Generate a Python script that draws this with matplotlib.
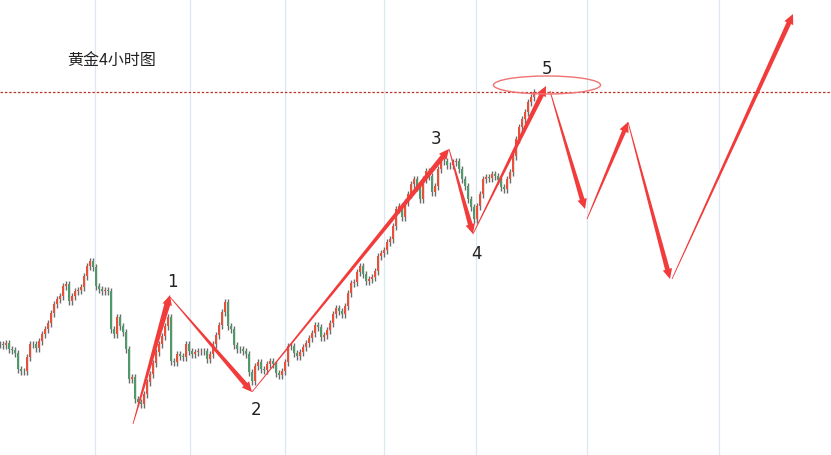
import numpy as np
import matplotlib.pyplot as plt
from matplotlib.patches import Ellipse, Polygon

plt.rcParams['font.family'] = ['Noto Sans CJK SC', 'DejaVu Sans']

title = '黄金4小时图'

# 4h closes in chart units, one per bar
closes = [111, 110, 112, 106, 105, 102, 86, 84, 84, 98, 111, 111, 107, 114, 121, 126, 132, 142,
          151, 156, 159, 169, 171, 154, 159, 164, 165, 168, 179, 189, 194, 188, 169, 166, 164, 165,
          164, 126, 121, 138, 129, 123, 106, 76, 78, 56, 53, 51, 61, 73, 81, 92, 103, 111,
          119, 129, 138, 94, 93, 101, 99, 98, 111, 104, 101, 103, 104, 104, 104, 96, 101, 111,
          120, 130, 143, 153, 129, 126, 110, 106, 106, 104, 101, 83, 74, 89, 93, 86, 85, 91,
          94, 91, 82, 80, 84, 93, 109, 109, 102, 99, 103, 108, 112, 117, 122, 130, 128, 118,
          120, 125, 132, 141, 147, 144, 141, 149, 162, 172, 173, 183, 189, 181, 174, 176, 178, 184,
          199, 202, 205, 213, 216, 229, 246, 249, 238, 253, 261, 271, 276, 268, 256, 276, 284, 279,
          263, 269, 286, 294, 294, 290, 290, 293, 294, 286, 276, 269, 256, 248, 236, 249, 261, 276,
          278, 277, 281, 279, 275, 268, 266, 276, 283, 299, 316, 328, 336, 343, 353, 358, 363]
bar_step = 3
wick = 3.5

# Elliott wave legs and projected path
leg_x0 = [133, 170, 252, 449, 473, 550, 587, 628, 672]
leg_y0 = [31, 158, 63, 306, 221, 364, 236, 333, 176]
leg_x1 = [170, 252, 449, 473, 546, 585, 628, 670, 793]
leg_y1 = [160, 63, 306, 221, 369, 246, 333, 176, 441]
leg_w = [6, 4.8, 5, 4.8, 4.8, 4.8, 4.3, 4.8, 4.8]

wave_x = [170, 252, 449, 473, 546]
wave_y = [158, 63, 306, 221, 369]
wave_labels = ['1', '2', '3', '4', '5']
label_off = [(2, 16), (4, -17), (-13, 11), (3, -19), (1, 18)]

resistance = 363
grid_x = [95, 190, 285, 384, 476, 587, 719]

RED = '#f23b3b'


def taper_arrow(ax, x0, y0, x1, y1, w, head_len=10, head_w=4.8):
    p0 = np.array([x0, y0], float)
    p1 = np.array([x1, y1], float)
    u = (p1 - p0) / np.linalg.norm(p1 - p0)
    n = np.array([-u[1], u[0]])
    base = p1 - u * head_len
    pts = [p0 + n * 0.4, base + n * w / 2, base + n * head_w, p1,
           base - n * head_w, base - n * w / 2, p0 - n * 0.4]
    ax.add_patch(Polygon(pts, closed=True, facecolor=RED, edgecolor='none', zorder=5))


fig = plt.figure(figsize=(8.31, 4.56), dpi=100)
ax = fig.add_axes([0, 0, 1, 1])
ax.set_xlim(0, 831)
ax.set_ylim(0, 456)
ax.axis('off')

for gx in grid_x:
    ax.axvline(gx, color='#dce7f0', lw=0.9, zorder=0)

# candles
c = np.array(closes, float)
o = np.r_[c[0], c[:-1]]
x = np.arange(len(c)) * bar_step
hi = np.maximum(o, c) + wick
lo = np.minimum(o, c) - wick
ax.vlines(x, lo, hi, color='#6c6c6c', lw=1.0, zorder=2)
up = c >= o
ax.bar(x[up], (c - o)[up], bottom=o[up], width=1.4, color='#e8503a', zorder=3)
ax.bar(x[~up], (c - o)[~up], bottom=o[~up], width=1.4, color='#4f9a6a', zorder=3)

ax.axhline(resistance, color='#b8352a', lw=0.9, ls=(0, (2, 1.5)), zorder=1)

for i in range(len(leg_x0)):
    taper_arrow(ax, leg_x0[i], leg_y0[i], leg_x1[i], leg_y1[i], leg_w[i])

ax.add_patch(Ellipse((wave_x[4] + 1, wave_y[4] + 1), 107, 18, fill=False,
                     edgecolor='#f07272', lw=1.0, zorder=6))

for wx, wy, lab, off in zip(wave_x, wave_y, wave_labels, label_off):
    ax.text(wx + off[0], wy + off[1], lab, fontsize=12, color='#222222',
            ha='center', va='center', family=['DejaVu Sans'])

ax.text(67, 456 - 60, title, fontsize=11.5, color='#222222', ha='left', va='center')

fig.savefig('out.png', dpi=100)
